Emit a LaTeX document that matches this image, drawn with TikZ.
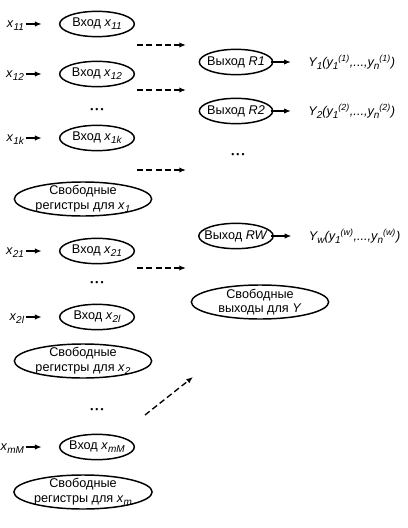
\documentclass[tikz,border=0pt]{standalone}
\usepackage{fontspec}
\setmainfont{Liberation Sans}
\usetikzlibrary{arrows.meta,positioning,shapes.geometric}
\newcommand{\lowsub}[1]{\raisebox{-0.45ex}{\fontsize{7.5}{8}\selectfont\itshape #1}}
\newcommand{\vsub}[2]{\textit{#1}\lowsub{#2}}
\newcommand{\ylab}[2]{\itshape Y\lowsub{#1}(y\lowsub{1}\textsuperscript{(#2)},...,y\lowsub{n}\textsuperscript{(#2)})}
\newcommand{\threedots}{{\fontsize{6.5}{7}\selectfont\textbullet\hspace{1.5pt}\textbullet\hspace{1.5pt}\textbullet}}

\begin{document}
\begin{tikzpicture}[
      x=0.75pt, y=-0.75pt,
      font=\fontsize{9.5}{11}\selectfont,
      inbox/.style={ellipse, draw, line width=1.1pt, inner xsep=-4pt, inner ysep=0pt, minimum width=56pt, minimum height=19pt},
      outbox/.style={inbox, minimum width=55pt},
      freebox/.style={ellipse, draw, line width=1.1pt, inner xsep=0pt, inner ysep=-2pt, align=center, minimum width=103pt, minimum height=25.5pt},
      lab/.style={inner sep=1pt},
      arr/.style={-{Latex[length=5pt,width=4pt]}, line width=0.8pt},
      darr/.style={arr, line width=1pt, dash pattern=on 4.5pt off 2.5pt}
    ]
      \useasboundingbox (0,0) rectangle (407,528);

      % inputs and free registers
      \node[inbox] (e11) at (97,24) {Вход \vsub{x}{11}};
      \node[inbox] (e12) at (97,74) {Вход \vsub{x}{12}};
      \node (p1) at (97,110) {\threedots};
      \node[inbox] (e1k) at (97,138) {Вход \vsub{x}{1k}};
      \node[freebox] (f1) at (83,199) {Свободные\\регистры для \vsub{x}{1}};
      \node[inbox] (e21) at (97,251) {Вход \vsub{x}{21}};
      \node (p2) at (97,283) {\threedots};
      \node[inbox] (e2l) at (97,317) {Вход \vsub{x}{2l}};
      \node[freebox] (f2) at (83,361) {Свободные\\регистры для \vsub{x}{2}};
      \node (p3) at (97,410) {\threedots};
      \node[inbox] (emM) at (97,447) {Вход \vsub{x}{mM}};
      \node[freebox] (fm) at (83,492) {Свободные\\регистры для \vsub{x}{m}};

      \foreach \n/\s in {e11/11, e12/12, e1k/1k, e21/21, e2l/2l, emM/mM} {
        \node[lab, left=25pt of \n, yshift=-1.5pt] (l\n) {\vsub{x}{\s}};
        \draw[arr] (l\n.east |- \n) -- ([xshift=-13pt]\n.west);
      }

      % dashed links
      \foreach \i/\y in {1/45, 2/90, 3/170, 4/268} {
        \coordinate (ds\i) at (137,\y);
        \coordinate (de\i) at (186,\y);
        \draw[darr] (ds\i) -- (de\i);
      }
      \coordinate (ds5) at (145,415);
      \coordinate (de5) at (193,377);
      \draw[darr] (ds5) -- (de5);

      % outputs
      \node[outbox] (r1) at (236,62) {Выход \textit{R1}};
      \node[outbox] (r2) at (236,111) {Выход \textit{R2}};
      \node (p4) at (238,155) {\threedots};
      \node[outbox] (rw) at (236,236) {Выход \textit{RW}};
      \node[freebox] (fy) at (260,302) {Свободные\\выходы для \textit{Y}};

      \foreach \n/\s in {r1/1, r2/2, rw/w} {
        \node[lab, right=25pt of \n] (y\n) {\ylab{\s}{\s}};
        \draw[arr] ([xshift=-2pt]\n.east) -- ([xshift=-12pt]y\n.west);
      }
    \end{tikzpicture}
\end{document}
